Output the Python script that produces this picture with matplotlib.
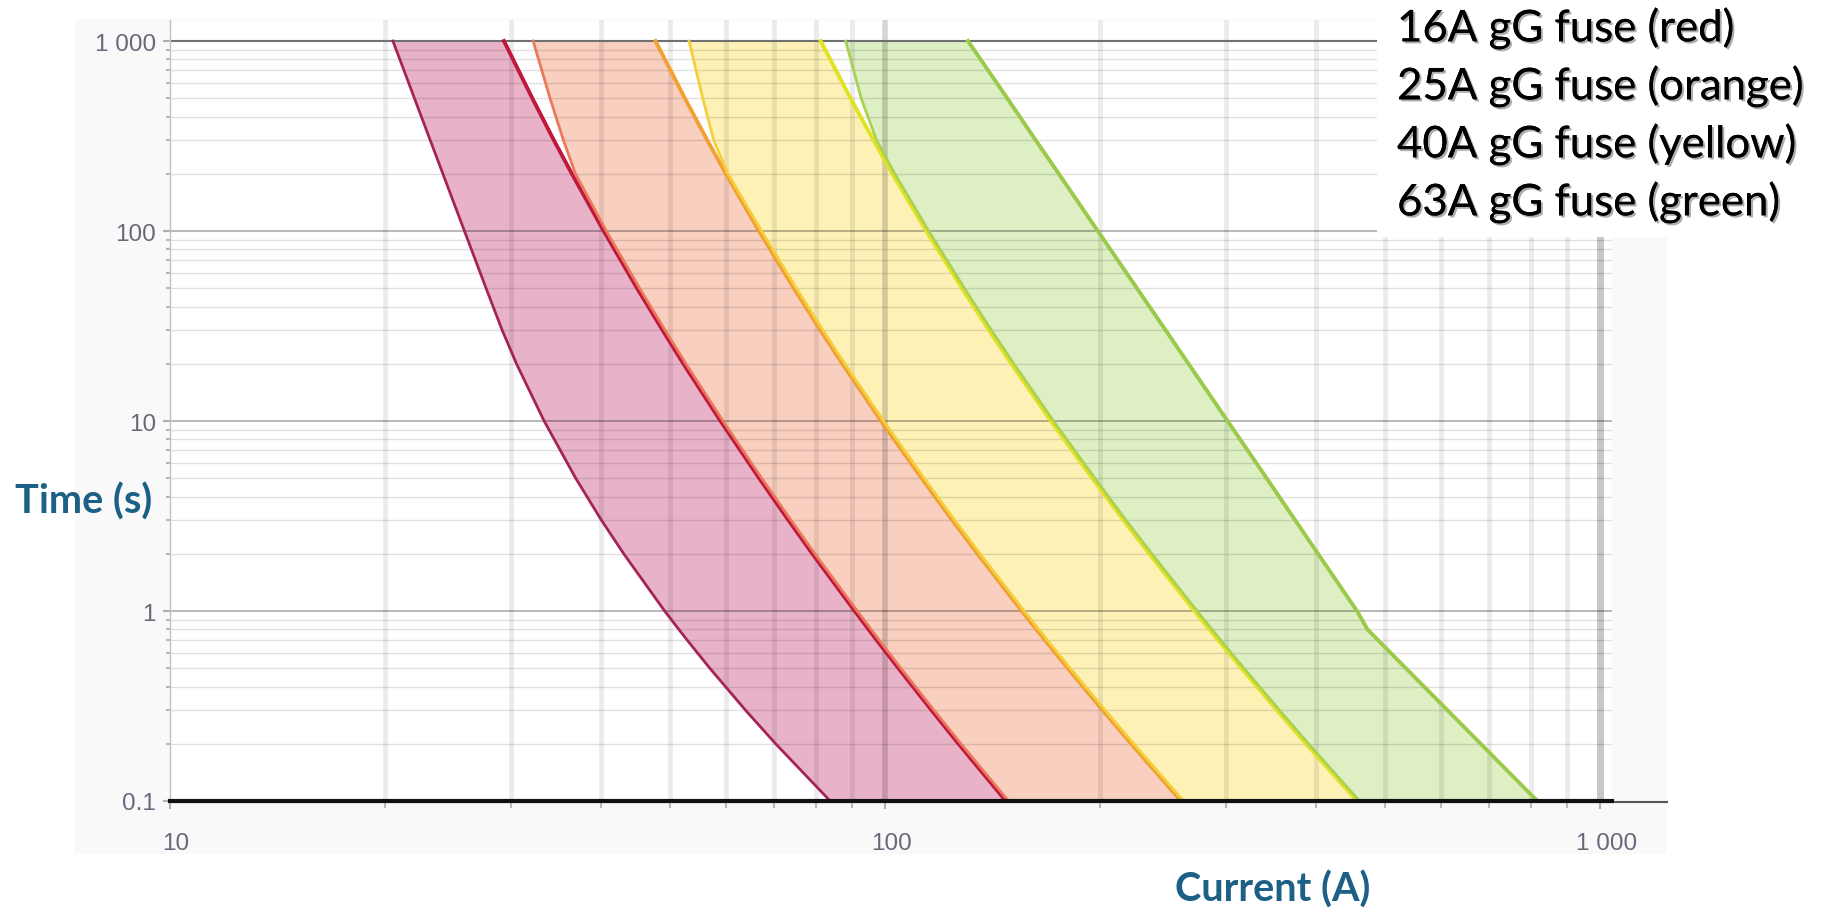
import numpy as np
import matplotlib
matplotlib.use('Agg')
import matplotlib.pyplot as plt
import matplotlib.ticker as mticker
import matplotlib.patheffects as pe
from matplotlib.patches import Rectangle
from matplotlib.lines import Line2D
from matplotlib.transforms import ScaledTranslation

time_s = [1000, 500, 300, 200, 100, 50, 30, 20, 10, 5, 3, 2, 1, 0.8, 0.7, 0.5, 0.3, 0.2, 0.1]

# current (A) of the left (min) and right (max) edge of each band
red_min = [20.5, 21.97, 23.12, 24.08, 25.81, 27.67, 29.15, 30.52, 33.36, 36.93,
           40.13, 43.11, 49.18, 51.47, 52.92, 56.87, 63.83, 70.31, 83.8]
red_max = [29.31, 32.11, 34.43, 36.48, 40.42, 45.0, 48.87, 52.25, 58.88, 66.68,
           73.3, 79.15, 90.71, 94.84, 97.43, 104.4, 116.2, 126.7, 147.6]
orange_min = [32.2, 34.0, 35.5, 36.9, 40.75, 45.36, 49.26, 52.67, 59.35, 67.21,
              73.89, 79.78, 91.44, 95.6, 98.21, 105.2, 117.1, 127.7, 148.8]
orange_max = [47.75, 52.47, 56.42, 59.91, 66.65, 74.54, 81.24, 87.17, 98.74, 112.5,
              124.2, 134.7, 155.3, 162.8, 167.5, 180.1, 201.6, 220.9, 259.4]
yellow_min = [53.2, 55.6, 57.6, 60.3, 67.18, 75.14, 81.89, 87.87, 99.53, 113.4,
              125.2, 135.8, 156.5, 164.1, 168.8, 181.5, 203.2, 222.7, 261.5]
yellow_max = [81.28, 89.45, 96.38, 102.4, 114.2, 128.1, 139.8, 150.2, 170.6, 194.9,
              215.6, 234.2, 270.9, 284.2, 292.6, 315.1, 353.4, 388.0, 457.1]
green_min = [88.1, 92.6, 97.3, 103.2, 115.1, 129.1, 140.9, 151.4, 172.0, 196.5,
             217.3, 236.1, 273.1, 286.5, 294.9, 317.6, 356.2, 391.1, 460.8]
green_max = [130.6, 148.2, 162.5, 175.0, 198.4, 225.0, 246.9, 265.7, 301.3, 341.7,
             374.7, 403.2, 457.1, 472.8, 489.6, 534.9, 611.9, 680.8, 816.9]

legend_lines = ['16A gG fuse (red)', '25A gG fuse (orange)',
                '40A gG fuse (yellow)', '63A gG fuse (green)']
y_ticks = [0.1, 1, 10, 100, 1000]
y_labels = ['0.1', '1', '10', '100', '1 000']
x_ticks = [10, 100, 1000]
x_labels = ['10', '100', '1 000']

W, H = 1821, 912
fig = plt.figure(figsize=(W / 100, H / 100), dpi=100)
fig.patch.set_facecolor('white')

def px(x, y):
    return x / W, 1 - y / H

# faint grey panel behind the chart
fig.add_artist(Rectangle(px(75, 855), (1667 - 75) / W, (855 - 20) / H,
                         facecolor='#f9f9f9', edgecolor='none', zorder=-1))

ax = fig.add_axes([170 / W, (H - 802) / H, (1612 - 170) / W, (802 - 21) / H])
ax.set_facecolor('white')
ax.set_xscale('log')
ax.set_yscale('log')
ax.set_xlim(10, 1039)
ax.set_ylim(0.1, 1290)

# grid
for dec in [10, 100]:
    for k in range(2, 10):
        ax.axvline(dec * k, color=(0, 0, 0, 0.08), lw=3.5, zorder=2)
ax.axvline(100, color=(0, 0, 0, 0.16), lw=4, zorder=2)
ax.axvline(1000, color=(0, 0, 0, 0.22), lw=5, zorder=2)
for dec in [0.1, 1, 10, 100]:
    for k in range(2, 10):
        ax.axhline(dec * k, color=(0, 0, 0, 0.12), lw=1, zorder=2)
for v in [1, 10, 100]:
    ax.axhline(v, color=(0, 0, 0, 0.33), lw=1.2, zorder=2)
ax.axhline(1000, color='#707070', lw=1.5, zorder=2)

bands = [
    (red_min, red_max, '#e8b3c8', '#a52458', '#c0173d'),
    (orange_min, orange_max, '#f9cfbf', '#ea7a5c', '#f2a032'),
    (yellow_min, yellow_max, '#fdf1b6', '#f4cf3c', '#e2e222'),
    (green_min, green_max, '#ddefc3', '#a9d152', '#9bc94a'),
]
for lo, hi, fc, c_lo, c_hi in bands:
    ax.fill_betweenx(time_s, lo, hi, facecolor=fc, edgecolor='none', zorder=1)
for lo, hi, fc, c_lo, c_hi in bands:
    ax.plot(lo, time_s, color=c_lo, lw=2, zorder=3, solid_joinstyle='round')
    ax.plot(hi, time_s, color=c_hi, lw=2.8, zorder=3, solid_joinstyle='round')

# spines
for s in ['top', 'right']:
    ax.spines[s].set_visible(False)
ax.spines['left'].set_color('#c0c0c0')
ax.spines['left'].set_linewidth(1)
ax.spines['bottom'].set_color('#111111')
ax.spines['bottom'].set_linewidth(3)
ax.spines['bottom'].set_zorder(4)
fig.add_artist(Line2D([170 / W, 1667 / W], [1 - 803 / H, 1 - 803 / H],
                      color='#555555', lw=1.5, zorder=-0.5))

# ticks
ax.yaxis.set_major_locator(mticker.FixedLocator(y_ticks))
ax.yaxis.set_major_formatter(mticker.FixedFormatter(y_labels))
ax.yaxis.set_minor_locator(mticker.LogLocator(subs=np.arange(2, 10)))
ax.yaxis.set_minor_formatter(mticker.NullFormatter())
ax.xaxis.set_major_locator(mticker.FixedLocator(x_ticks))
ax.xaxis.set_major_formatter(mticker.FixedFormatter(x_labels))
ax.xaxis.set_minor_locator(mticker.LogLocator(subs=np.arange(2, 10)))
ax.xaxis.set_minor_formatter(mticker.NullFormatter())

ax.tick_params(axis='y', which='major', length=5, width=1.5, color='#b0b0b0',
               pad=5, labelcolor='#68687a', labelsize=17.5)
ax.tick_params(axis='y', which='minor', length=3, width=1.5, color='#b8b8b8')
ax.tick_params(axis='x', which='major', length=6, width=1.5, color='#b0b0b0',
               pad=16, labelcolor='#68687a', labelsize=17.5)
ax.tick_params(axis='x', which='minor', length=5, width=1.5, color='#b8b8b8')
for lab in ax.get_yticklabels() + ax.get_xticklabels():
    lab.set_family('Liberation Sans')
for lab in ax.get_xticklabels():
    lab.set_transform(lab.get_transform() + ScaledTranslation(0.06, 0, fig.dpi_scale_trans))

# axis titles
title_col = '#1c6085'
fig.text(*px(84, 502), 'Time (s)', ha='center', va='center', color=title_col,
         fontsize=28.5, fontweight='bold', family='Lato')
fig.text(*px(1273, 890), 'Current (A)', ha='center', va='center', color=title_col,
         fontsize=28.5, fontweight='bold', family='Lato')

# legend text on a white box
fig.add_artist(Rectangle(px(1377, 238), (W - 1377) / W, 238 / H,
                         facecolor='white', edgecolor='none', zorder=5))
shadow = [pe.withSimplePatchShadow(offset=(1.5, -1.5), shadow_rgbFace='#777777', alpha=0.6),
          pe.Normal()]
for i, txt in enumerate(legend_lines):
    t = fig.text(*px(1397, 29 + i * 58), txt, ha='left', va='center', color='black',
                 fontsize=31.5, family='Lato', zorder=6)
    t.set_path_effects(shadow)

fig.savefig('out.png', dpi=100)
